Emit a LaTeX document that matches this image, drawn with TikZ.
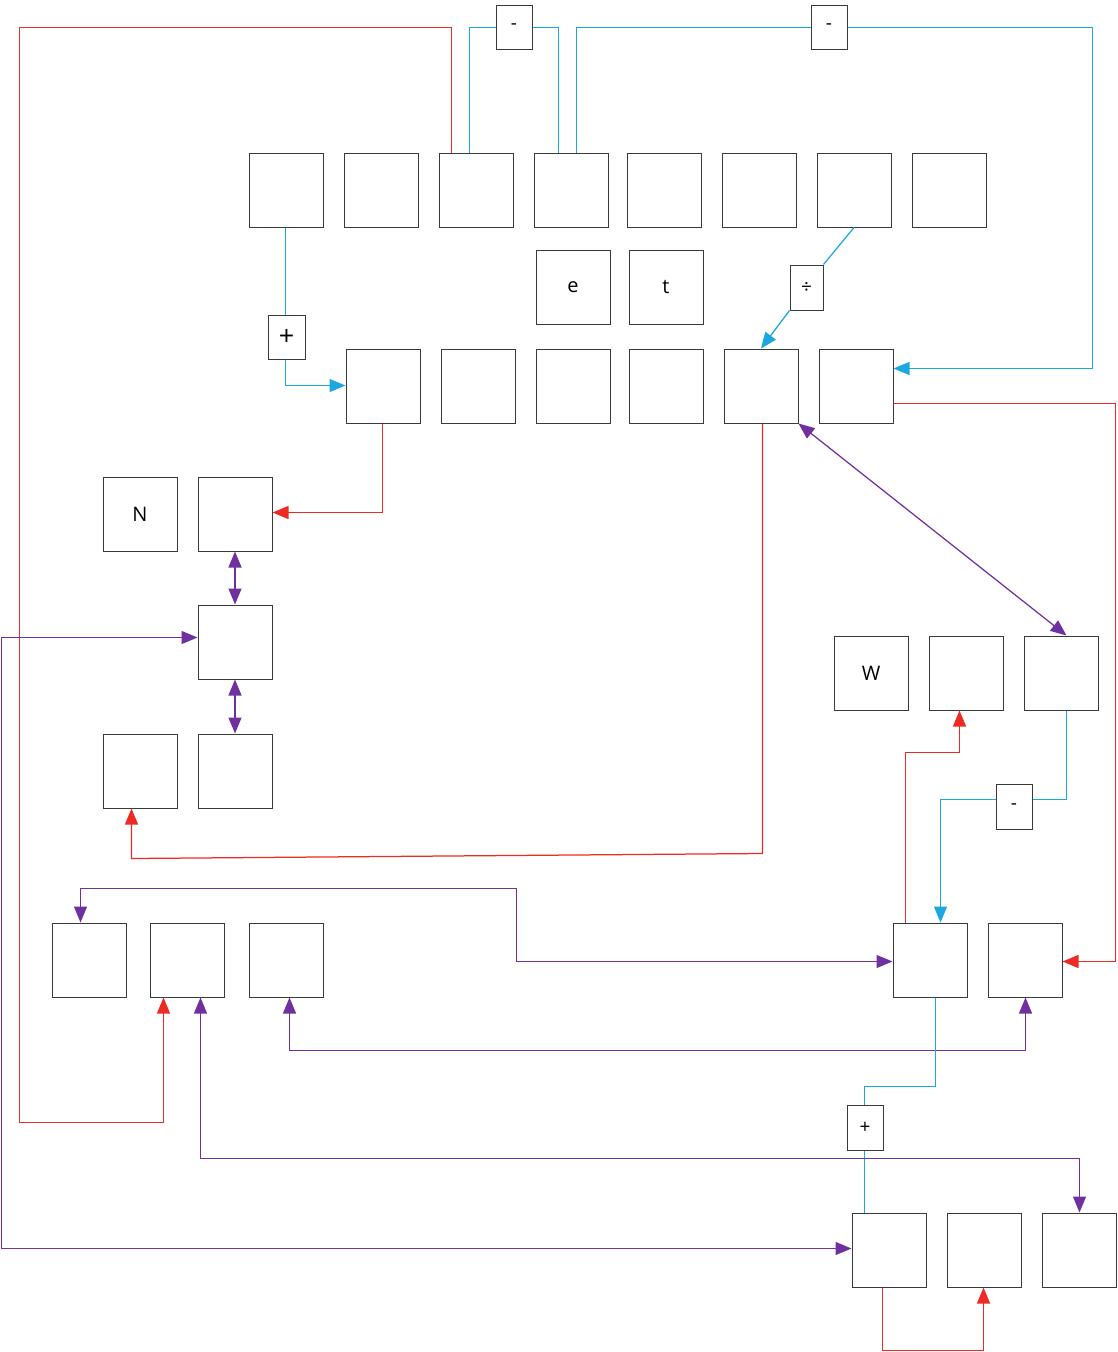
\documentclass[tikz,border=0pt]{standalone}
\usepackage{fontspec}
\setmainfont{Open Sans}
\usetikzlibrary{arrows.meta}
\definecolor{cRed}{HTML}{EE2A24}
\definecolor{cCyan}{HTML}{1BA8E0}
\definecolor{cPurple}{HTML}{7030A0}
\definecolor{cBorder}{HTML}{3A3A3A}
\tikzset{
  bx/.style={draw=cBorder, line width=1pt, minimum width=74pt, minimum height=74pt, inner sep=0pt, font=\fontsize{20}{20}\selectfont, anchor=north west},
  lb/.style={draw=cBorder, line width=1pt, minimum width=36pt, minimum height=44pt, inner sep=0pt, fill=white, font=\fontsize{19}{19}\selectfont, anchor=north west},
  Tri/.tip={Triangle[length=16pt,width=13pt]},
  redl/.style={draw=cRed, line width=1.25pt},
  cyanl/.style={draw=cCyan, line width=1.25pt},
  purl/.style={draw=cPurple, line width=1.25pt},
}
\begin{document}
\begin{tikzpicture}[x=1pt,y=-1pt]
\useasboundingbox (0,0) rectangle (1117,1352);
\begin{scope}[shift={(0.5,0.5)}]
% row 1
\node[bx] (a1) at (248,152) {};
\node[bx] (a2) at (343,152) {};
\node[bx] (a3) at (438,152) {};
\node[bx] (a4) at (533,152) {};
\node[bx] (a5) at (626,152) {};
\node[bx] (a6) at (721,152) {};
\node[bx] (a7) at (816,152) {};
\node[bx] (a8) at (911,152) {};
% row 2
\node[bx] (e) at (535,249) {e};
\node[bx] (t) at (628,249) {t};
% row 3
\node[bx] (b1) at (345,348) {};
\node[bx] (b2) at (440,348) {};
\node[bx] (b3) at (535,348) {};
\node[bx] (b4) at (628,348) {};
\node[bx] (b5) at (723,348) {};
\node[bx] (b6) at (818,348) {};
% left group
\node[bx] (N) at (102,476) {N};
\node[bx] (c1) at (197,476) {};
\node[bx] (c2) at (197,604) {};
\node[bx] (d1) at (102,733) {};
\node[bx] (d2) at (197,733) {};
% right group
\node[bx] (W) at (833,635) {W};
\node[bx] (w1) at (928,635) {};
\node[bx] (w2) at (1023,635) {};
% row y 922
\node[bx] (f1) at (51,922) {};
\node[bx] (f2) at (149,922) {};
\node[bx] (f3) at (248,922) {};
\node[bx] (g1) at (892,922) {};
\node[bx] (g2) at (987,922) {};
% bottom
\node[bx] (h1) at (851,1212) {};
\node[bx] (h2) at (946,1212) {};
\node[bx] (h3) at (1041,1212) {};
% label boxes
\node[lb] (m1) at (495,4) {-};
\node[lb] (m2) at (810,4) {-};
\node[lb, minimum width=33pt, minimum height=45pt] (dv) at (789,264) {÷};
\node[lb, minimum width=37pt, font=\fontsize{27}{27}\selectfont] (p1) at (267,314) {+};
\node[lb, minimum height=45pt] (m3) at (995,783) {-};
\node[lb, minimum height=45pt] (p2) at (846,1104) {+};

% connectors
% red a3 -> f2
\draw[redl, -{Tri}] (a3.north -| 451,0) -- (451,27) -- (19,27) -- (19,1122) -- (163,1122) -- (f2.south -| 163,0);
% cyan a3 -> m1 -> a4
\draw[cyanl] (a3.north -| 469,0) -- (469,27) -- (m1.west |- 0,27);
\draw[cyanl] (m1.east |- 0,27) -- (558,27) -- (a4.north -| 558,0);
% cyan a4 -> m2 -> b6
\draw[cyanl] (a4.north -| 576,0) -- (576,27) -- (m2.west |- 0,27);
\draw[cyanl, -{Tri}] (m2.east |- 0,27) -- (1092,27) -- (1092,368) -- (b6.east |- 0,368);
% cyan a7 -> dv -> b5
\draw[cyanl] (a7.south) -- (dv.north east);
\draw[cyanl, -{Tri}] (dv.south west) -- (b5.north);
% cyan a1 -> p1 -> b1
\draw[cyanl] (a1.south -| 285,0) -- (p1.north -| 285,0);
\draw[cyanl, -{Tri}] (p1.south -| 285,0) -- (285,385) -- (b1.west |- 0,385);
% red b1 -> c1
\draw[redl, -{Tri}] (b1.south -| 382,0) -- (382,512) -- (c1.east |- 0,512);
% red b5 -> d1
\draw[redl, -{Tri}] (b5.south -| 762,0) -- (762,853) -- (131,858) -- (d1.south -| 131,0);
% purple b5 <-> w2
\draw[purl, {Tri}-{Tri}] (b5.south east) -- (w2.north -| 1066,0);
% red b6 -> g2
\draw[redl, -{Tri}] (b6.east |- 0,403) -- (1115,403) -- (1115,961) -- (g2.east |- 0,961);
% purple c1 <-> c2, c2 <-> d2
\draw[purl, {Tri}-{Tri}] (c1.south) -- (c2.north);
\draw[purl, {Tri}-{Tri}] (c2.south) -- (d2.north);
% purple c2 <-> h1
\draw[purl, {Tri}-{Tri}] (c2.west |- 0,637) -- (1,637) -- (1,1248) -- (h1.west |- 0,1248);
% red g1 -> w1
\draw[redl, -{Tri}] (g1.north -| 905,0) -- (905,752) -- (959,752) -- (w1.south -| 959,0);
% cyan w2 -> m3 -> g1
\draw[cyanl] (w2.south -| 1066,0) -- (1066,799) -- (m3.east |- 0,799);
\draw[cyanl, -{Tri}] (m3.west |- 0,799) -- (940,799) -- (g1.north -| 940,0);
% purple f1 <-> g1
\draw[purl, {Tri}-{Tri}] (f1.north -| 80,0) -- (80,888) -- (516,888) -- (516,961) -- (g1.west |- 0,961);
% purple f3 <-> g2
\draw[purl, {Tri}-{Tri}] (f3.south -| 289,0) -- (289,1050) -- (1025,1050) -- (g2.south -| 1025,0);
% cyan g1 -> p2 -> h1
\draw[cyanl] (g1.south -| 935,0) -- (935,1086) -- (864,1086) -- (p2.north -| 864,0);
\draw[cyanl] (p2.south -| 864,0) -- (h1.north -| 864,0);
% purple f2 <-> h3
\draw[purl, {Tri}-{Tri}] (f2.south -| 200,0) -- (200,1158) -- (1079,1158) -- (h3.north -| 1079,0);
% red h1 -> h2
\draw[redl, -{Tri}] (h1.south -| 882,0) -- (882,1350) -- (983,1350) -- (h2.south -| 983,0);
\end{scope}
\end{tikzpicture}
\end{document}
